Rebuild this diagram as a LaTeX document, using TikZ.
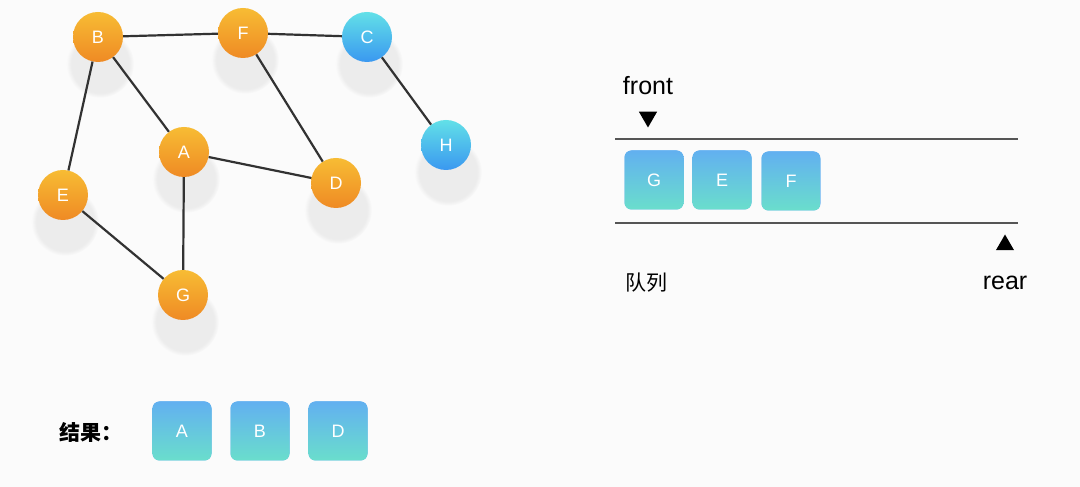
\documentclass[tikz,border=0pt]{standalone}
\usepackage{fontspec}
\setmainfont{Liberation Sans}
\newfontfamily\cjk{Noto Sans CJK SC}
\usetikzlibrary{shapes.geometric, shadows}

\definecolor{OrangeTop}{RGB}{247,188,52}
\definecolor{OrangeBot}{RGB}{239,138,36}
\definecolor{CyanTop}{RGB}{98,224,232}
\definecolor{BlueBot}{RGB}{58,152,240}
\definecolor{BoxTop}{RGB}{98,176,240}
\definecolor{BoxBot}{RGB}{106,222,204}
\definecolor{EdgeGray}{RGB}{50,50,50}
\definecolor{LineGray}{RGB}{85,85,85}
\definecolor{PageBg}{RGB}{251,251,251}

\tikzset{
  vertex/.style={circle, minimum size=50pt, inner sep=0pt, text=white,
    font=\fontsize{18}{18}\selectfont,
    circular drop shadow={shadow yshift=-20pt, shadow scale=1.35, opacity=.12}},
  orangev/.style={vertex, top color=OrangeTop, bottom color=OrangeBot},
  bluev/.style={vertex, top color=CyanTop, bottom color=BlueBot},
  qbox/.style={rectangle, rounded corners=7pt, minimum size=59pt, inner sep=0pt,
    fill=BoxTop, text=white, font=\fontsize{18}{18}\selectfont,
    path picture={\shade[top color=BoxTop, bottom color=BoxBot]
      (path picture bounding box.south west) rectangle
      (path picture bounding box.north east);}},
  pointer/.style={regular polygon, regular polygon sides=3, fill=black,
    inner sep=0pt, minimum size=21pt},
  edge/.style={draw=EdgeGray, line width=2.2pt},
  label/.style={font=\fontsize{25}{25}\selectfont}
}

\begin{document}
\begin{tikzpicture}[x=1pt, y=1pt]

    % background
    \fill[PageBg] (0,0) rectangle (1080,487);
    \useasboundingbox (0,0) rectangle (1080,487);

    % Graph
    \node[orangev] (B) at (98,450)  {B};
    \node[orangev] (F) at (243,454) {F};
    \node[bluev]   (C) at (367,450) {C};
    \node[bluev]   (H) at (446,342) {H};
    \node[orangev] (A) at (184,335) {A};
    \node[orangev] (D) at (336,304) {D};
    \node[orangev] (E) at (63,292) {E};
    \node[orangev] (G) at (183,192) {G};

    \draw[edge] (B) -- (F);
    \draw[edge] (F) -- (C);
    \draw[edge] (C) -- (H);
    \draw[edge] (B) -- (A);
    \draw[edge] (B) -- (E);
    \draw[edge] (F) -- (D);
    \draw[edge] (A) -- (D);
    \draw[edge] (A) -- (G);
    \draw[edge] (E) -- (G);

    % Queue
    \coordinate (qTopL) at (615,348);
    \coordinate (qTopR) at (1018,348);
    \coordinate (qBotL) at (615,264);
    \coordinate (qBotR) at (1018,264);
    \draw[LineGray, line width=1.8pt] (qTopL) -- (qTopR);
    \draw[LineGray, line width=1.8pt] (qBotL) -- (qBotR);

    \node[qbox] (qG) at (654,307) {G};
    \node[qbox] (qE) at (722,307) {E};
    \node[qbox] (qF) at (791,306) {F};

    \node[label] (front) at (648,401) {front};
    \node[pointer, shape border rotate=180] (frontPtr) at (648,370) {};
    \node[pointer] (rearPtr) at (1005,242) {};
    \node[label] (rear) at (1005,204) {rear};
    \node[font=\cjk\fontsize{21}{21}\selectfont] (queueName) at (646,204) {队列};

    % Result
    \node[font=\cjk\bfseries\fontsize{21}{21}\selectfont] (resName) at (91,55) {结果：};
    \node[qbox] (rA) at (182,56) {A};
    \node[qbox] (rB) at (260,56) {B};
    \node[qbox] (rD) at (338,56) {D};
  \end{tikzpicture}
\end{document}
